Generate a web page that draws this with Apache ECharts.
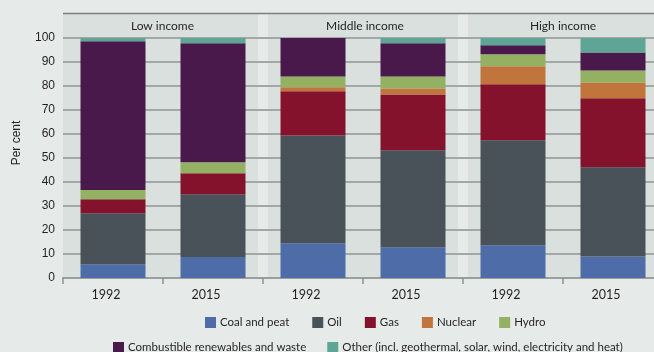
<!DOCTYPE html>
<html>
<head>
<meta charset="utf-8">
<script src="https://cdn.jsdelivr.net/npm/echarts@6/dist/echarts.min.js"></script>
<style>
  html, body { margin: 0; padding: 0; background: #e6ebe9; }
  #chart { width: 654px; height: 352px; }
</style>
</head>
<body>
<div id="chart"></div>
<script>
// Energy supply mix by income group, 1992 vs 2015 (per cent)
const years = ['1992', '2015', '1992', '2015', '1992', '2015'];
const groups = ['Low income', 'Middle income', 'High income'];
const yTicks = [0, 10, 20, 30, 40, 50, 60, 70, 80, 90, 100];

const coal        = [5.7, 8.8, 14.5, 12.8, 13.6, 9.0];
const oil         = [21.3, 26.1, 44.9, 40.4, 43.8, 37.1];
const gas         = [5.8, 8.7, 18.4, 23.3, 23.3, 28.8];
const nuclear     = [0, 0, 1.7, 2.5, 7.5, 6.6];
const hydro       = [3.9, 4.6, 4.5, 5.0, 5.0, 5.0];
const combustible = [61.9, 49.6, 16.0, 13.8, 3.8, 7.5];
const other       = [1.4, 2.2, 0, 2.2, 3.0, 6.0];

const seriesNames = ['Coal and peat', 'Oil', 'Gas', 'Nuclear', 'Hydro',
  'Combustible renewables and waste',
  'Other (incl. geothermal, solar, wind, electricity and heat)'];
const seriesData = [coal, oil, gas, nuclear, hydro, combustible, other];
const colors = ['#4e6ca8', '#4a5259', '#85122d', '#c1743b', '#93b063', '#48194a', '#5ea596'];

const FONT = 'Lato, Roboto, sans-serif';
const TEXT = '#231f20';

// panel extents on the hidden 0..6 value axis (one unit per year column)
const panels = [
  [0, 1.95, groups[0]],
  [2.05, 3.95, groups[1]],
  [4.05, 6, groups[2]]
];

const chart = echarts.init(document.getElementById('chart'));

const barSeries = seriesNames.map((name, i) => ({
  name: name,
  type: 'bar',
  stack: 'total',
  barWidth: 65,
  data: seriesData[i],
  itemStyle: { color: colors[i] },
  emphasis: { disabled: true },
  z: 3
}));

const panelSeries = {
  type: 'custom',
  xAxisIndex: 1,
  yAxisIndex: 0,
  z: -1,
  silent: true,
  clip: false,
  data: panels,
  renderItem: function (params, api) {
    const x0 = api.value(0), x1 = api.value(1);
    const bl = api.coord([x0, 0]);
    const tr = api.coord([x1, 100]);
    const headTop = tr[1] - 24;
    return {
      type: 'group',
      children: [
        {
          type: 'rect',
          shape: { x: bl[0], y: headTop, width: tr[0] - bl[0], height: bl[1] - headTop },
          style: { fill: '#d9e0de' }
        },
        {
          type: 'text',
          style: {
            text: panels[params.dataIndex][2],
            x: (bl[0] + Math.min(tr[0], 654)) / 2 + 2,
            y: headTop + 12,
            align: 'center',
            verticalAlign: 'middle',
            font: '12px ' + FONT,
            fill: TEXT
          }
        }
      ]
    };
  }
};

chart.setOption({
  backgroundColor: '#e6ebe9',
  animation: false,
  grid: { left: 63, width: 600, top: 38, bottom: 74, outerBoundsMode: 'none' },
  legend: [
    {
      data: seriesNames.slice(0, 5),
      left: 205, top: 316.5, padding: 0, width: 440,
      itemWidth: 11, itemHeight: 11, itemGap: 23,
      icon: 'rect',
      textStyle: { fontFamily: FONT, fontSize: 11.5, color: TEXT, padding: [0, 0, 0, -1] },
      selectedMode: false
    },
    {
      data: seriesNames.slice(5),
      left: 113, top: 341.5, padding: 0, width: 600,
      itemWidth: 11, itemHeight: 11, itemGap: 21,
      icon: 'rect',
      textStyle: { fontFamily: FONT, fontSize: 11.5, color: TEXT, padding: [0, 0, 0, -1] },
      selectedMode: false
    }
  ],
  xAxis: [
    {
      type: 'category',
      data: years,
      axisLine: { lineStyle: { color: '#9a9e9c', width: 2 } },
      axisTick: { show: true, length: 6, lineStyle: { color: '#8d918f', width: 1.5 } },
      axisLabel: { fontFamily: FONT, fontSize: 12.5, color: TEXT, margin: 10, padding: [0, 14, 0, 0] },
      splitLine: { show: false }
    },
    {
      type: 'value', min: 0, max: 6, show: false
    }
  ],
  yAxis: {
    type: 'value',
    min: yTicks[0], max: yTicks[yTicks.length - 1], interval: 10,
    axisLine: { show: false },
    axisTick: { show: false },
    axisLabel: { fontFamily: '"Liberation Sans", Arial, sans-serif', fontSize: 12, color: TEXT, margin: 8 },
    splitLine: { lineStyle: { color: '#a3a7a5', width: 2 } }
  },
  graphic: [
    {
      type: 'line',
      shape: { x1: 63, y1: 13.5, x2: 654, y2: 13.5 },
      style: { stroke: '#7d807f', lineWidth: 1.5 },
      z: 10
    },
    {
      type: 'text',
      x: 17, y: 143,
      rotation: Math.PI / 2,
      style: {
        text: 'Per cent',
        align: 'center', verticalAlign: 'middle',
        font: '12px "Liberation Sans", Arial, sans-serif',
        fill: TEXT
      }
    }
  ],
  series: [panelSeries].concat(barSeries)
});
</script>
</body>
</html>
